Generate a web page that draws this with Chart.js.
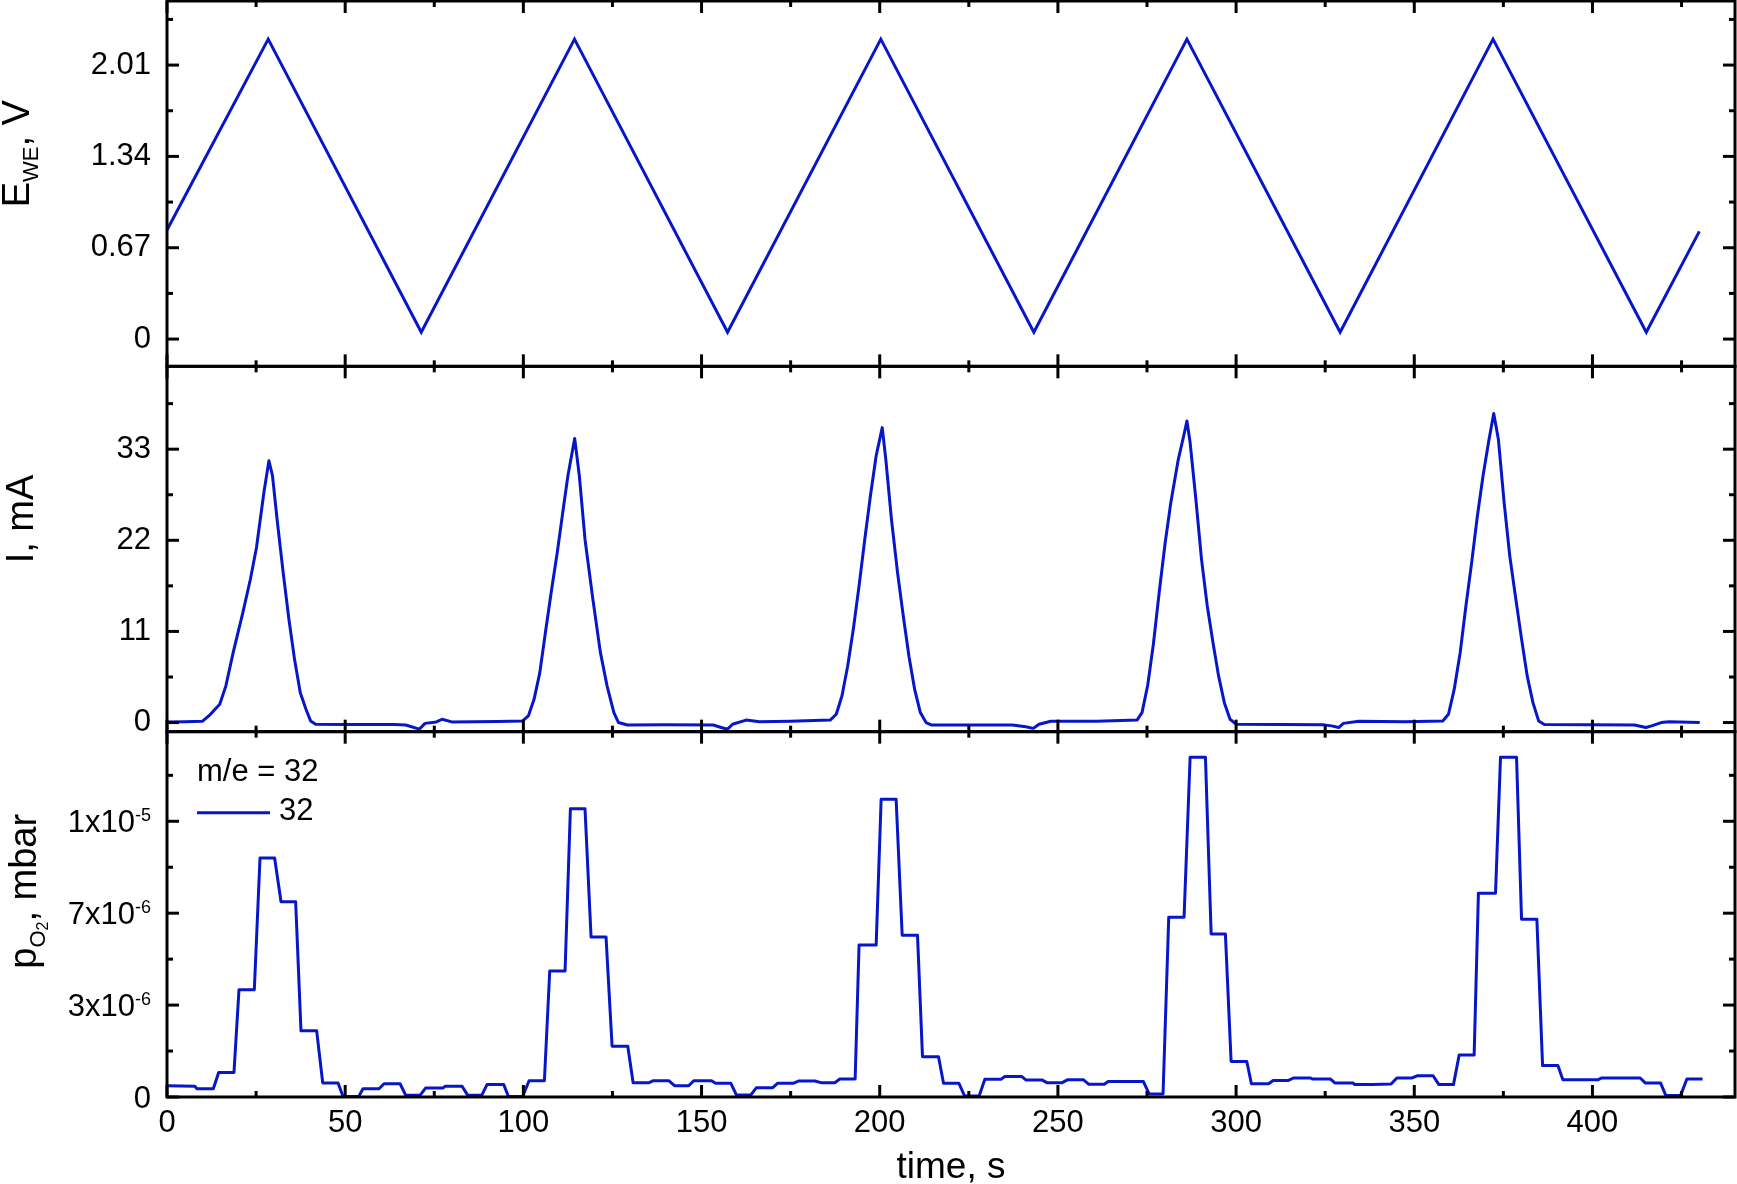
<!DOCTYPE html>
<html>
<head>
<meta charset="utf-8">
<script src="https://cdn.jsdelivr.net/npm/chart.js@4.4.1/dist/chart.umd.min.js"></script>
<style>
html,body{margin:0;padding:0;background:#ffffff;}
#wrap{width:1737px;height:1184px;position:relative;}
</style>
</head>
<body>
<div id="wrap"><canvas id="c"></canvas></div>
<script>
const FONT = '"Liberation Sans", Arial, Helvetica, sans-serif';
const LINE_COLOR = '#0616c8';

// ---- Top panel: working electrode potential E_WE (V) vs time (s) ----
const eTime = [0, 28.4, 71.35, 114.35, 157.3, 200.3, 243.25, 286.2, 329.2, 372.1, 415.1, 430];
const eVolt = [0.80, 2.20, 0.05, 2.20, 0.05, 2.20, 0.05, 2.20, 0.05, 2.20, 0.05, 0.79];

// ---- Middle panel: current I (mA) vs time (s) ----
const iTime = [
  0, 5, 10, 12.2, 14.8, 16.5, 18.6, 21.3, 23.4, 25.1, 27.2, 28.6, 29.6, 31, 32.6, 34.2, 35.8, 37.4, 39, 40.3, 41.7, 50, 56, 63.8, 67, 70.8, 72.4, 75.6, 77.2, 79.9, 92.8, 99.8,
  101.4, 103, 104.6, 106.2, 107.8, 109.5, 111.1, 112.5, 114.4, 115.7, 117.3, 119.5, 121.6, 123.5, 125.4, 126.7, 129.2, 140, 153.3, 155.5, 157.3, 158.7, 162.5, 166.3, 174.9, 186.1,
  187.8, 189.4, 191, 192.6, 194.2, 195.8, 197.4, 199, 200.7, 201.7, 203.3, 205, 206.6, 208.2, 209.8, 211.4, 213, 214.6, 237.2, 241, 243.1, 244.7, 248, 260.9, 272.2,
  273.6, 275.2, 276.8, 278.5, 280.1, 281.7, 283.8, 285.4, 286.2, 287.1, 288.7, 290.3, 291.9, 293.5, 295.1, 296.7, 298.3, 300, 324.7, 326.8, 328.8, 330.1, 334.4, 347.3, 358,
  359.6, 361.2, 362.9, 364.5, 366.1, 367.7, 369.3, 370.9, 372.3, 373.6, 375.2, 376.8, 378.5, 380.1, 381.7, 383.3, 384.9, 386.5, 411.8, 415, 416.6, 419.3, 421.5, 430.1
];
const iCurrent = [
  0.08, 0.1, 0.16, 1.0, 2.2, 4.4, 8.5, 13.3, 17.3, 21.1, 27.8, 31.6, 29.8, 24.1, 18.1, 12.5, 7.6, 3.6, 1.6, 0.2, -0.2, -0.24, -0.22, -0.24, -0.3, -0.8, -0.1, 0.08, 0.4, 0.08, 0.12, 0.2,
  0.8, 2.8, 6.0, 10.9, 15.7, 20.5, 25.5, 29.8, 34.3, 29.8, 22.1, 14.9, 8.5, 4.4, 1.2, 0.0, -0.3, -0.28, -0.3, -0.6, -0.8, -0.2, 0.3, 0.1, 0.16, 0.3,
  1.0, 3.2, 6.8, 11.3, 16.5, 22.1, 27.4, 32.2, 35.6, 31.8, 24.5, 18.1, 12.9, 8.0, 4.0, 1.2, 0.0, -0.3, -0.3, -0.5, -0.7, -0.2, 0.16, 0.16, 0.3,
  1.2, 4.5, 9.5, 16.0, 21.7, 26.6, 31.8, 34.8, 36.4, 33.8, 27.0, 19.7, 14.1, 9.7, 5.6, 2.4, 0.4, -0.2, -0.28, -0.4, -0.6, -0.1, 0.16, 0.1, 0.2,
  1.0, 4.0, 8.5, 14.1, 19.3, 24.9, 29.8, 34.0, 37.3, 34.2, 26.6, 20.1, 14.9, 10.1, 5.6, 2.4, 0.2, -0.24, -0.3, -0.6, -0.4, 0.0, 0.1, 0.0
];

// ---- Bottom panel: O2 partial pressure (in units of 1e-6 mbar), m/e = 32 ----
const pTime = [
  0, 7.8, 8.4, 13, 14.5, 18.8, 20.2, 24.5, 26.1, 30.2, 32, 36.1, 37.6, 42, 43.7, 48, 49.4, 53.8, 55, 59.5, 60.9, 65.4, 67, 71, 72.6, 77.5, 78, 82.8, 84.4, 88.3, 89.8, 94.5, 95.8, 99.8,
  101.6, 105.9, 107.4, 111.7, 113.2, 117.3, 119, 123.2, 124.9, 129.3, 130.8, 135.3, 136.5, 140.8, 142.4, 146.4, 147.8, 152.8, 153.9, 158.2, 159.8, 163.8, 165.4, 170, 171.4, 175.9, 177.2, 181.8, 183.5, 187.4, 188.8, 193.1,
  194.2, 199, 200.4, 204.6, 206.3, 210.6, 212, 216.5, 217.9, 222.2, 223.8, 227.9, 229.5, 234, 235.1, 239.9, 241, 245.5, 246.9, 251.2, 252.8, 257.1, 258.7, 263, 264.1, 274, 275.6, 279.5,
  281.1, 285.4, 287.1, 291.4, 293, 297, 298.6, 303, 304.3, 309.1, 310.4, 314.7, 316.1, 320.9, 321.5, 326.5, 327.7, 332.8, 333.3, 338.3, 343.5, 345.1, 349.4, 350.8, 355.3, 356.9, 361,
  362.6, 366.8, 368, 372.8, 374.2, 378.7, 380.1, 384.4, 386, 390.3, 391.7, 401.6, 402.6, 413.4, 414.8, 419.1, 420.6, 424.7, 426.5, 430.9
];
const pO2_e6 = [
  0.41, 0.39, 0.30, 0.30, 0.89, 0.89, 3.89, 3.89, 8.67, 8.67, 7.08, 7.08, 2.40, 2.40, 0.51, 0.51, 0.02, 0.02, 0.30, 0.30, 0.48, 0.48, 0.06, 0.06, 0.33, 0.33, 0.39, 0.39, 0.06, 0.06, 0.45, 0.45, 0.02, 0.02,
  0.59, 0.59, 4.57, 4.57, 10.45, 10.45, 5.8, 5.8, 1.84, 1.84, 0.52, 0.52, 0.59, 0.59, 0.41, 0.41, 0.59, 0.59, 0.50, 0.50, 0.07, 0.07, 0.34, 0.34, 0.50, 0.50, 0.58, 0.58, 0.52, 0.52, 0.65, 0.65,
  5.51, 5.51, 10.8, 10.8, 5.87, 5.87, 1.46, 1.46, 0.50, 0.50, 0.04, 0.04, 0.64, 0.64, 0.74, 0.74, 0.62, 0.62, 0.52, 0.52, 0.63, 0.63, 0.46, 0.46, 0.56, 0.56, 0.11, 0.11,
  6.52, 6.52, 12.32, 12.32, 5.91, 5.91, 1.29, 1.29, 0.48, 0.48, 0.60, 0.60, 0.69, 0.69, 0.65, 0.65, 0.51, 0.51, 0.45, 0.45, 0.47, 0.69, 0.69, 0.77, 0.77, 0.45, 0.45,
  1.52, 1.52, 7.39, 7.39, 12.32, 12.32, 6.45, 6.45, 1.14, 1.14, 0.63, 0.63, 0.69, 0.69, 0.51, 0.51, 0.05, 0.05, 0.65, 0.65
];

// ---- Ticks and labels ----
const xTicks = [0, 50, 100, 150, 200, 250, 300, 350, 400];
const xTickLabels = ['0', '50', '100', '150', '200', '250', '300', '350', '400'];
const eTicks = [0, 0.67, 1.34, 2.01];
const eTickLabels = ['0', '0.67', '1.34', '2.01'];
const iTicks = [0, 11, 22, 33];
const iTickLabels = ['0', '11', '22', '33'];
const pTicks = [0, 3.3333, 6.6667, 10];
const pTickLabels = ['0', '3x10^-6', '7x10^-6', '1x10^-5'];
const xTitle = 'time, s';
const legendTitle = 'm/e = 32';
const seriesName = '32';

// axis ranges
const xRange = [0, 440];
const eRange = [-0.2, 2.48];
const iRange = [-1.1, 43];
const pRange = [0, 13.25];

function pts(xs, ys) { return xs.map((x, i) => ({ x: x, y: ys[i] })); }

function minorValues(major, min, max) {
  const half = (major[1] - major[0]) / 2;
  const out = [];
  const k0 = Math.ceil((min - major[0]) / half - 1e-9);
  const k1 = Math.floor((max - major[0]) / half + 1e-9);
  for (let k = k0; k <= k1; k++) {
    if (Math.abs(k % 2) === 1) out.push(major[0] + k * half);
  }
  return out;
}

function yAxis(range, ticks, labels, weight, showLabels) {
  return {
    type: 'linear', position: 'left', stack: 'panels', stackWeight: 1, weight: weight,
    min: range[0], max: range[1],
    grid: { display: false, drawTicks: false },
    border: { display: false },
    afterBuildTicks: (s) => { s.ticks = ticks.map(v => ({ value: v })); },
    afterFit: (s) => { s.width = 167; s.paddingTop = 0; s.paddingBottom = 0; },
    ticks: {
      display: showLabels, padding: 16, color: '#000',
      font: { family: FONT, size: 31 },
      callback: (v, i) => labels[i]
    }
  };
}

const MAJ = 12, MIN = 6;
const framePlugin = {
  id: 'frame',
  afterDatasetsDraw(chart) {
    const ctx = chart.ctx;
    const xs = chart.scales.x;
    const L = chart.chartArea.left, R = chart.chartArea.right;
    const xMajor = xs.ticks.map(t => t.value);
    const xMinor = minorValues(xMajor, xs.min, xs.max);
    ctx.save();
    ctx.strokeStyle = '#000';
    ctx.lineWidth = 3;
    ctx.lineCap = 'butt';
    const seg = (x1, y1, x2, y2) => { ctx.beginPath(); ctx.moveTo(x1, y1); ctx.lineTo(x2, y2); ctx.stroke(); };
    for (const id of ['yE', 'yI', 'yP']) {
      const ys = chart.scales[id];
      const T = ys.top, B = ys.bottom;
      const yMajor = ys.ticks.map(t => t.value);
      const yMinor = minorValues(yMajor, ys.min, ys.max);
      for (const v of yMajor) { const y = ys.getPixelForValue(v); seg(L, y, L + MAJ, y); seg(R, y, R - MAJ, y); }
      for (const v of yMinor) { const y = ys.getPixelForValue(v); seg(L, y, L + MIN, y); seg(R, y, R - MIN, y); }
      for (const v of xMajor) { const x = xs.getPixelForValue(v); seg(x, B, x, B - MAJ); seg(x, T, x, T + MAJ); }
      for (const v of xMinor) { const x = xs.getPixelForValue(v); seg(x, B, x, B - MIN); seg(x, T, x, T + MIN); }
      ctx.strokeRect(L, T, R - L, B - T);
    }
    ctx.restore();
  }
};

function drawVertical(ctx, parts, xBase, yCenter) {
  ctx.save();
  let total = 0;
  for (const p of parts) { ctx.font = p.size + 'px ' + FONT; p.w = ctx.measureText(p.text).width; total += p.w; }
  ctx.translate(xBase, yCenter);
  ctx.rotate(-Math.PI / 2);
  ctx.fillStyle = '#000';
  ctx.textAlign = 'left';
  ctx.textBaseline = 'alphabetic';
  let x = -total / 2;
  for (const p of parts) { ctx.font = p.size + 'px ' + FONT; ctx.fillText(p.text, x, p.shift || 0); x += p.w; }
  ctx.restore();
}

const textPlugin = {
  id: 'texts',
  afterDraw(chart) {
    const ctx = chart.ctx;
    const yE = chart.scales.yE, yI = chart.scales.yI, yP = chart.scales.yP;
    const L = chart.chartArea.left;
    // axis titles with subscripts
    drawVertical(ctx, [{ text: 'E', size: 38 }, { text: 'WE', size: 22, shift: 9 }, { text: ', V', size: 38 }], 29, (yE.top + yE.bottom) / 2 - 30);
    drawVertical(ctx, [{ text: 'I, mA', size: 38 }], 33, (yI.top + yI.bottom) / 2 - 30);
    drawVertical(ctx, [{ text: 'p', size: 38 }, { text: 'O', size: 22, shift: 9 }, { text: '2', size: 16, shift: 12 }, { text: ', mbar', size: 38 }], 36, (yP.top + yP.bottom) / 2 - 23);

    // pO2 tick labels with superscript exponents
    ctx.save();
    ctx.fillStyle = '#000';
    ctx.textBaseline = 'alphabetic';
    ctx.textAlign = 'left';
    const rightEdge = L - 16;
    yP.ticks.forEach((t, i) => {
      const parts = pTickLabels[i].split('^');
      const y = yP.getPixelForValue(t.value);
      ctx.font = '31px ' + FONT;
      const w1 = ctx.measureText(parts[0]).width;
      let w2 = 0;
      if (parts[1]) { ctx.font = '18px ' + FONT; w2 = ctx.measureText(parts[1]).width; }
      const base = y + 11;
      ctx.font = '31px ' + FONT;
      ctx.fillText(parts[0], rightEdge - w1 - w2, base);
      if (parts[1]) { ctx.font = '18px ' + FONT; ctx.fillText(parts[1], rightEdge - w2, base - 11); }
    });

    // legend inside bottom panel
    const ds = chart.data.datasets[2];
    ctx.font = '31px ' + FONT;
    ctx.textBaseline = 'middle';
    ctx.fillText(legendTitle, L + 30, yP.top + 41);
    ctx.strokeStyle = ds.borderColor;
    ctx.lineWidth = 3;
    ctx.beginPath(); ctx.moveTo(L + 30, yP.top + 81); ctx.lineTo(L + 103, yP.top + 81); ctx.stroke();
    ctx.fillText(ds.label, L + 112, yP.top + 80);
    ctx.restore();
  }
};

new Chart(document.getElementById('c'), {
  type: 'scatter',
  data: {
    datasets: [
      { label: 'E_WE', data: pts(eTime, eVolt), xAxisID: 'x', yAxisID: 'yE', showLine: true, borderColor: LINE_COLOR, borderWidth: 3, pointRadius: 0, tension: 0, borderJoinStyle: 'miter' },
      { label: 'I', data: pts(iTime, iCurrent), xAxisID: 'x', yAxisID: 'yI', showLine: true, borderColor: LINE_COLOR, borderWidth: 3, pointRadius: 0, tension: 0, borderJoinStyle: 'round' },
      { label: seriesName, data: pts(pTime, pO2_e6), xAxisID: 'x', yAxisID: 'yP', showLine: true, borderColor: LINE_COLOR, borderWidth: 3, pointRadius: 0, tension: 0, borderJoinStyle: 'round' }
    ]
  },
  options: {
    responsive: true,
    maintainAspectRatio: false,
    animation: false,
    devicePixelRatio: 1,
    layout: { padding: { top: 1, right: 2, bottom: 0, left: 0 } },
    plugins: { legend: { display: false }, tooltip: { enabled: false } },
    scales: {
      x: {
        type: 'linear', position: 'bottom', min: xRange[0], max: xRange[1],
        grid: { display: false, drawTicks: false },
        border: { display: false },
        afterBuildTicks: (s) => { s.ticks = xTicks.map(v => ({ value: v })); },
        afterFit: (s) => { s.height = 87; s.paddingLeft = 0; s.paddingRight = 0; },
        ticks: { padding: 8, color: '#000', maxRotation: 0, autoSkip: false, font: { family: FONT, size: 31 }, callback: (v, i) => xTickLabels[i] },
        title: { display: true, text: xTitle, color: '#000', font: { family: FONT, size: 37, lineHeight: 0.9 }, padding: { top: 0, bottom: 0 } }
      },
      yP: yAxis(pRange, pTicks, pTickLabels, 1, false),
      yI: yAxis(iRange, iTicks, iTickLabels, 2, true),
      yE: yAxis(eRange, eTicks, eTickLabels, 3, true)
    }
  },
  plugins: [framePlugin, textPlugin]
});
</script>
</body>
</html>
